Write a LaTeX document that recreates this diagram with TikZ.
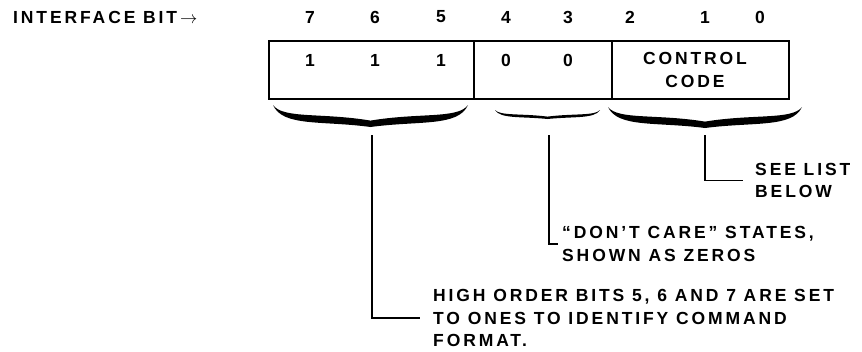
\documentclass[tikz,border=0pt]{standalone}
\usepackage{fontspec}
\usepackage{tikz}
\usetikzlibrary{positioning}
\usetikzlibrary{calc}

\newfontfamily\tracked{Liberation Sans}[LetterSpace=16.5]

\tikzset{
  txt/.style={inner sep=0pt, font=\tracked\bfseries\fontsize{17.5}{22.5}\selectfont},
  field/.style={draw, line width=1.6pt, minimum height=58pt, inner sep=0pt},
  note/.style={txt, anchor=west, align=left},
  leader/.style={line width=1.4pt}
}

% filled curly brace: left x, right x, top y, depth, thickness
\newcommand{\curlybrace}[5]{%
  \pgfmathsetmacro\hl{(#2-#1)/2}
  \pgfmathsetmacro\xm{#1+\hl}
  \fill (#1,#3) .. controls ({#1+0.1*\hl},{#3+#4}) and ({\xm-0.5*\hl},{#3+0.7*#4}) .. (\xm,{#3+#4})
    .. controls ({\xm+0.5*\hl},{#3+0.7*#4}) and ({#2-0.1*\hl},{#3+#4}) .. (#2,#3)
    .. controls ({#2-0.1*\hl},{#3+#4-#5}) and ({\xm+0.5*\hl},{#3+0.7*#4-#5}) .. (\xm,{#3+#4-0.8*#5})
    .. controls ({\xm-0.5*\hl},{#3+0.7*#4-#5}) and ({#1+0.1*\hl},{#3+#4-#5}) .. cycle;
}

\begin{document}
\begin{tikzpicture}[x=1pt, y=-1pt]

        \useasboundingbox (0,0) rectangle (862,351);

        \node[txt, anchor=west] (title) at (13,17) {INTERFACE BIT\,$\rightarrow$};

        % bit numbers above the word
        \foreach \b/\x in {7/310, 6/375, 5/441, 4/506, 3/568, 2/630, 1/705, 0/760} {
          \node[txt] (bit\b) at (\x,17) {\b};
        }

        \node[field, minimum width=205pt] (high) at (371.5,70) {};
        \node[field, minimum width=138pt] (dont) at (543,70) {};
        \node[field, minimum width=177pt] (ctrl) at (700.5,70) {};

        \foreach \x in {310, 375, 441} {
          \node[txt] at (\x,60) {1};
        }
        \foreach \x in {506, 568} {
          \node[txt] at (\x,60) {0};
        }
        \node[txt, align=center] (code) at (695,70) {CONTROL\\CODE};

        \curlybrace{273}{468}{105}{22}{8}
        \curlybrace{495}{600}{110}{9}{3}
        \curlybrace{608}{802}{107}{21}{8}

        \coordinate (t1) at (372,135);
        \coordinate (t2) at (549,135);
        \coordinate (t3) at (705,135);

        \node[note] (order) at (433,318) {HIGH ORDER BITS 5, 6 AND 7 ARE SET\\TO ONES TO IDENTIFY COMMAND\\FORMAT.};
        \node[note] (care) at (562,244) {“DON’T CARE” STATES,\\SHOWN AS ZEROS};
        \node[note] (list) at (755,180.5) {SEE LIST\\BELOW};

        \draw[leader] (t1) |- ([xshift=-13pt]order.west);
        \draw[leader] (t2) |- ([xshift=-4pt]care.west);
        \draw[leader] (t3) |- ([xshift=-12pt]list.west);

\end{tikzpicture}
\end{document}
